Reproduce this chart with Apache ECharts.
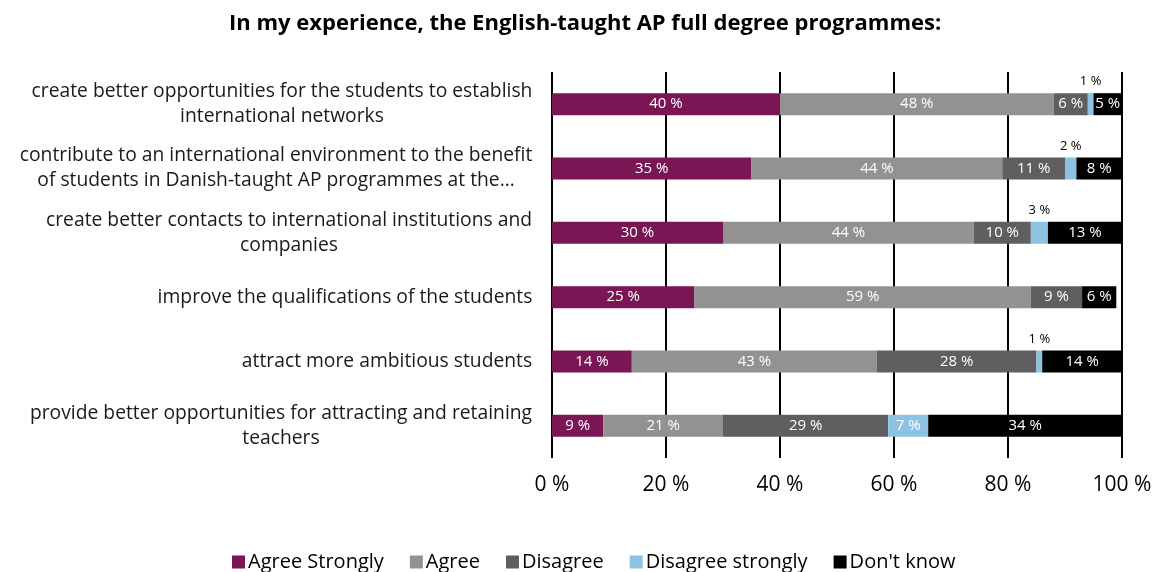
<!DOCTYPE html>
<html>
<head>
<meta charset="utf-8">
<script src="https://cdn.jsdelivr.net/npm/echarts@6/dist/echarts.min.js"></script>
<style>
  html, body { margin: 0; padding: 0; background: #fff; }
  #chart { width: 1157px; height: 572px; }
</style>
</head>
<body>
<div id="chart"></div>
<script>
// Survey statements (top to bottom) and response shares in percent
const categories = [
  'create better opportunities for the students to establish\ninternational networks',
  'contribute to an international environment to the benefit\nof students in Danish-taught AP programmes at the…',
  'create better contacts to international institutions and\ncompanies',
  'improve the qualifications of the students',
  'attract more ambitious students',
  'provide better opportunities for attracting and retaining\nteachers'
];
const seriesNames = ['Agree Strongly', 'Agree', 'Disagree', 'Disagree strongly', "Don't know"];
const agreeStrongly    = [40, 35, 30, 25, 14, 9];
const agree            = [48, 44, 44, 59, 43, 21];
const disagree         = [6, 11, 10, 9, 28, 29];
const disagreeStrongly = [1, 2, 3, 0, 1, 7];
const dontKnow         = [5, 8, 13, 6, 14, 34];
const xTicks = [0, 20, 40, 60, 80, 100];

const colors = ['#7B1654', '#929292', '#5F5F5F', '#8DC3E2', '#000000'];
const values = [agreeStrongly, agree, disagree, disagreeStrongly, dontKnow];
const FONT = '"Open Sans", "Noto Sans", sans-serif';
const CAT_SIZE = 19.3;

// Each category label is a right-aligned block whose lines are centred on one another:
// one rich style per label, as wide as its longest line.
const measureCtx = document.createElement('canvas').getContext('2d');
measureCtx.font = CAT_SIZE + 'px ' + FONT;
const catRich = {};
categories.forEach((c, i) => {
  const w = Math.max(...c.split('\n').map(l => measureCtx.measureText(l).width));
  catRich['c' + i] = {
    width: Math.ceil(w) + 1,
    align: 'center',
    fontSize: CAT_SIZE,
    lineHeight: 25,
    color: '#1a1a1a',
    fontFamily: FONT
  };
});

const series = values.map((vals, si) => ({
  name: seriesNames[si],
  type: 'bar',
  stack: 'total',
  barWidth: 22,
  itemStyle: { color: colors[si] },
  data: vals.map(v => {
    const small = si === 3 && v > 0 && v <= 3;
    return {
      value: v,
      label: {
        show: v > 0,
        position: small ? 'top' : 'inside',
        distance: 5,
        color: small ? '#000' : '#fff',
        fontSize: small ? 13 : 15,
        fontFamily: FONT,
        formatter: p => p.value + ' %'
      }
    };
  })
}));

const chart = echarts.init(document.getElementById('chart'));
chart.setOption({
  animation: false,
  textStyle: { fontFamily: FONT },
  title: {
    text: 'In my experience, the English-taught AP full degree programmes:',
    left: 229,
    top: 13,
    padding: 0,
    textStyle: { fontSize: 22, fontWeight: 'bold', color: '#000', fontFamily: FONT }
  },
  legend: {
    bottom: -5,
    left: 227,
    itemWidth: 13,
    itemHeight: 13,
    itemGap: 26,
    icon: 'rect',
    textStyle: { fontSize: 20, color: '#000', fontFamily: FONT, padding: [0, 0, 0, -2] },
    data: seriesNames
  },
  grid: { left: 552, right: 35, top: 72, height: 386 },
  xAxis: {
    type: 'value',
    min: 0,
    max: 100,
    interval: 20,
    axisLine: { show: false },
    axisTick: { show: false },
    splitLine: { show: true, lineStyle: { color: '#000', width: 2 } },
    axisLabel: {
      fontSize: 21,
      color: '#000',
      margin: 17,
      formatter: v => xTicks.includes(v) ? v + ' %' : ''
    }
  },
  yAxis: {
    type: 'category',
    inverse: true,
    data: categories,
    axisLine: { show: false },
    axisTick: { show: false },
    axisLabel: {
      margin: 19,
      align: 'right',
      rich: catRich,
      formatter: (v, i) => v.split('\n').map(l => '{c' + i + '|' + l + '}').join('\n')
    }
  },
  series: series
});
</script>
</body>
</html>
